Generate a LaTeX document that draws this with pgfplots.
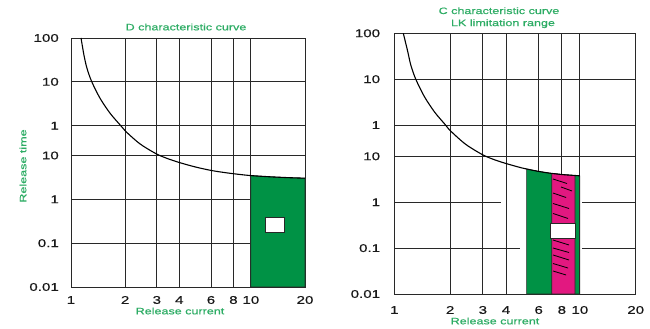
\documentclass[border=0pt]{standalone}
\usepackage{fontspec}
\setmainfont{Liberation Sans}[FakeStretch=1.35, FakeBold=0.6]
\usepackage{pgfplots}
\pgfplotsset{compat=1.18}
\definecolor{fillgreen}{RGB}{0,146,69}
\definecolor{txtgreen}{RGB}{45,172,100}
\definecolor{magfill}{RGB}{226,24,128}
\definecolor{gridc}{RGB}{40,40,40}
\pgfplotsset{
  chartstyle/.style={
    scale only axis, anchor=south west,
    xmin=1, xmax=20, ymin=0, ymax=5.68,
    xtick={1,2,3,4,6,8,10,20},
    xticklabels={1,2,3,4,6,8,10,20},
    ytick={0,1,2,3,3.68,4.68,5.68},
    yticklabels={0.01,0.1,1,10,1,10,100},
    major tick length=0pt, minor tick num=0,
    /pgf/number format/assume math mode=true,
    axis line style={gridc, line width=0.9pt},
    grid style={gridc, line width=0.9pt},
    xmajorgrids,
    tick label style={font=\fontsize{11.2}{12}\selectfont, text=black!90},
    yticklabel style={inner sep=0pt, anchor=east},
    xticklabel style={inner sep=0pt, anchor=center},
  },
  hl/.style={gridc, line width=0.9pt},
  hatch/.style={black, line width=0.8pt},
}
\begin{document}
\begin{tikzpicture}
\useasboundingbox (0pt,0pt) rectangle (650pt,329pt);
% ---------- left chart ----------
\begin{semilogxaxis}[chartstyle, at={(71pt,42pt)}, width=234pt, height=249pt,
  ymajorgrids,
  yticklabel style={xshift=-12pt},
  xticklabel style={yshift=-13pt}]
\addplot[draw=gridc, line width=0.6pt, fill=fillgreen] coordinates {
 (10,0) (10,2.542) (12.77,2.514) (16.5,2.493) (20,2.482) (20,0)} -- cycle;
\addplot[draw=gridc, line width=0.8pt, fill=white] coordinates {
 (11.98,1.25) (11.98,1.58) (15.34,1.58) (15.34,1.25)} -- cycle;
\addplot[black, line width=1.1pt, smooth] coordinates {
 (1.137,5.68) (1.181,5.285) (1.227,4.989) (1.303,4.687) (1.449,4.308) (1.647,3.966)
 (1.873,3.699) (2.014,3.550) (2.418,3.265) (2.969,3.041) (3.417,2.934) (3.984,2.842)
 (4.891,2.740) (5.925,2.664) (6.909,2.619) (8.157,2.580) (9.885,2.543) (12.77,2.514)
 (16.5,2.493) (20,2.482)};
\end{semilogxaxis}
% ---------- right chart ----------
\begin{semilogxaxis}[chartstyle, at={(394.3pt,35pt)}, width=241.4pt, height=260.7pt,
  yticklabel style={xshift=-14pt},
  xticklabel style={yshift=-16pt}]
\addplot[hl] coordinates {(1,1) (4.76,1)};
\addplot[hl] coordinates {(10.24,1) (20,1)};
\addplot[hl] coordinates {(1,2) (3.76,2)};
\addplot[hl] coordinates {(10.24,2) (20,2)};
\addplot[hl] coordinates {(1,3) (20,3)};
\addplot[hl] coordinates {(1,3.68) (20,3.68)};
\addplot[hl] coordinates {(1,4.68) (20,4.68)};
\addplot[draw=gridc, line width=0.6pt, fill=fillgreen] coordinates {
 (5.17,0) (5.17,2.725) (5.925,2.675) (6.909,2.632) (8.157,2.600) (10,2.575) (10,0)} -- cycle;
\addplot[draw=gridc, line width=0.6pt, fill=magfill] coordinates {
 (7.06,0) (7.06,2.628) (8.157,2.600) (9.42,2.582) (9.42,0)} -- cycle;
\addplot[gridc, line width=1pt] coordinates {(10,0) (10,2.575)};
\addplot[draw=gridc, line width=0.8pt, fill=white] coordinates {
 (6.97,1.22) (6.97,1.54) (9.42,1.54) (9.42,1.22)} -- cycle;
% hatch lines
\addplot[hatch] coordinates {(7.17,2.505) (8.53,2.407)};
\addplot[hatch] coordinates {(7.92,2.331) (9.08,2.244)};
\addplot[hatch] coordinates {(7.17,2.200) (8.43,2.102)};
\addplot[hatch] coordinates {(7.17,1.972) (8.74,1.863)};
\addplot[hatch] coordinates {(7.17,1.754) (8.64,1.645)};
\addplot[hatch] coordinates {(7.17,1.176) (8.74,1.068)};
\addplot[hatch] coordinates {(7.17,1.002) (8.74,0.904)};
\addplot[hatch] coordinates {(7.17,0.850) (8.74,0.741)};
\addplot[hatch] coordinates {(7.17,0.664) (8.64,0.566)};
\addplot[hatch] coordinates {(7.17,0.501) (8.43,0.414)};
\addplot[black, line width=1.1pt, smooth] coordinates {
 (1.118,5.68) (1.181,5.285) (1.227,4.989) (1.303,4.687) (1.449,4.308) (1.647,3.966)
 (1.873,3.699) (2.014,3.550) (2.418,3.265) (2.969,3.041) (3.417,2.934) (3.984,2.845)
 (4.891,2.745) (5.925,2.675) (6.909,2.632) (8.157,2.600) (10,2.575)};
\end{semilogxaxis}
% ---------- texts ----------
\begin{scope}[every node/.style={font=\fontsize{9.3}{10}\selectfont, text=txtgreen, inner sep=0pt}]
\node at (186pt,302pt) {D characteristic curve};
\node at (180pt,18pt) {Release current};
\node[rotate=90] at (23pt,163pt) {Release time};
\node at (499pt,318.3pt) {C characteristic curve};
\node at (503pt,305.3pt) {LK limitation range};
\node at (495pt,8pt) {Release current};
\end{scope}
\end{tikzpicture}
\end{document}
